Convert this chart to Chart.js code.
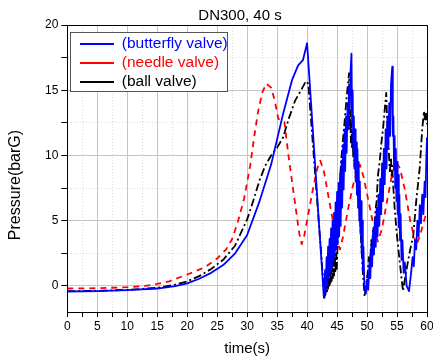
<!DOCTYPE html>
<html>
<head>
<meta charset="utf-8">
<script src="https://cdn.jsdelivr.net/npm/chart.js@4.4.0/dist/chart.umd.min.js"></script>
<style>
  html, body { margin: 0; padding: 0; background: #fff; }
  #wrap { width: 433px; height: 361px; }
</style>
</head>
<body>
<div id="wrap"><canvas id="myChart" width="433" height="361"></canvas></div>
<script>
const chartTitle = 'DN300, 40 s';
const xTitle = 'time(s)';
const yTitle = 'Pressure(barG)';
const seriesNames = ['(butterfly valve)', '(needle valve)', '(ball valve)'];
const seriesColors = ['#0000ff', '#ff0000', '#000000'];
const xTickLabels = [0, 5, 10, 15, 20, 25, 30, 35, 40, 45, 50, 55, 60];
const yTickLabels = [0, 5, 10, 15, 20];

// [time s, pressure barG]
const butterfly = [
  [0,-0.43],[5,-0.4],[10,-0.32],[15,-0.2],[18,-0.02],[20,0.2],[22,0.55],[24,1.0],[26,1.6],[28,2.5],[30,3.9],[32,6.4],[34,9.3],[36,13.2],[37.5,15.8],[38.5,16.9],[39.3,17.3],[40,18.6],
  [42.8,-0.9],[43.0,1.2],[43.1,-0.5],[43.25,2.2],[43.35,0.0],[43.5,3.0],[43.6,0.6],[43.75,3.6],[43.85,1.0],[44.0,4.4],[44.1,1.3],[44.25,5.0],[44.35,1.8],[44.5,5.6],[44.6,2.2],[44.75,6.4],[44.85,2.8],[45.0,7.2],[45.1,3.2],[45.25,7.9],[45.35,3.8],[45.5,8.6],[45.6,4.6],[45.75,9.6],[45.85,6.0],[46.0,10.8],[46.1,7.4],[46.25,12.0],[46.35,8.8],[46.5,13.0],[46.6,10.2],[46.75,14.0],[46.85,12.0],[47.0,15.4],[47.1,13.5],[47.25,16.5],[47.4,17.8],
  [47.5,12.5],[47.6,15.0],[47.7,10.5],[47.8,13.0],[47.9,9.0],[48.0,12.0],[48.1,8.0],[48.2,11.0],[48.3,7.0],[48.4,10.5],[48.5,6.0],[48.6,9.5],[48.7,5.0],[48.8,8.0],[48.9,4.0],[49.0,6.5],[49.1,2.5],[49.2,5.0],[49.3,1.2],[49.4,3.0],[49.55,0.0],[49.8,-0.6],
  [50.0,0.5],[50.2,-0.3],[50.4,1.8],[50.55,0.6],[50.7,3.0],[50.85,1.5],[51.0,4.2],[51.15,2.4],[51.3,5.0],[51.45,3.0],[51.6,6.0],[51.75,3.8],[51.9,7.0],[52.05,4.6],[52.2,8.2],[52.35,5.5],[52.5,9.4],[52.65,6.5],[52.8,10.5],[52.95,7.8],[53.1,12.0],[53.25,9.0],[53.4,13.0],[53.55,10.5],[53.7,14.0],[53.85,11.5],[54.0,15.5],[54.2,16.8],
  [54.3,11.5],[54.4,13.0],[54.5,9.0],[54.6,11.5],[54.7,7.5],[54.8,10.5],[54.9,6.5],[55.0,9.5],[55.1,5.5],[55.2,8.5],[55.3,4.5],[55.4,7.0],[55.5,3.5],[55.6,5.5],[55.75,2.0],[55.9,3.5],[56.1,1.0],[56.3,1.8],[56.6,0.0],[57.0,-0.4],
  [57.3,0.8],[57.6,2.2],[57.8,1.5],[58.0,3.5],[58.2,2.8],[58.4,5.0],[58.6,3.8],[58.8,6.2],[59.0,4.8],[59.2,7.0],[59.4,5.5],[59.6,8.0],[59.75,6.8],[59.9,10.0],[60.0,11.4]
];

const needle = [
  [0,-0.2],[5,-0.18],[10,-0.1],[13,0],[15,0.15],[17,0.35],[19,0.7],[21,1.05],[23,1.45],[25,2.1],
  [26.5,2.8],[27.5,3.6],[28.5,5.0],[29.5,6.7],[30.5,9.2],[31.2,11.5],[31.8,13.3],[32.5,14.8],[33.2,15.5],[34.0,15.2],
  [34.6,14.2],[35.2,12.8],[36.2,12.6],[37.0,9.6],[38.0,6.3],[38.7,4.0],[39.1,3.2],[39.5,3.8],[40.2,5.5],[41.0,7.5],
  [41.7,9.0],[42.2,9.6],[42.8,8.8],[43.5,7.0],[44.3,5.0],[45.0,3.4],[45.5,2.8],[46.0,3.8],[46.8,5.8],[47.6,7.6],
  [48.3,8.8],[48.8,9.3],[49.4,8.4],[50.2,6.6],[51.0,4.8],[51.8,3.4],[52.5,4.4],[53.3,6.4],[54.2,8.6],[54.9,9.5],
  [55.5,9.0],[56.3,7.4],[57.2,5.0],[58.2,3.1],[58.8,3.8],[59.5,5.0],[60,5.7]
];

const ball = [
  [0,-0.4],[5,-0.38],[10,-0.3],[15,-0.15],[18,0.1],[20,0.35],[22,0.75],[24,1.3],[26,2.0],[28,3.1],[30,5.1],[31,6.5],[32,8.0],[33,9.2],[34,10.0],[35,10.6],[36,11.4],[37,12.9],[38,14.2],[39,15.0],[39.8,15.7],[40.2,15.5],
  [42.9,-0.9],[43.0,-0.2],[43.05,-0.7],[43.15,0.3],[43.2,-0.5],[43.3,0.8],[43.35,-0.4],[43.45,1.3],[43.5,-0.2],[43.6,1.8],[43.65,0.0],[43.75,2.3],[43.8,0.1],[43.9,2.9],[43.95,0.3],[44.05,3.3],[44.1,0.4],[44.2,3.5],[44.3,0.6],[44.4,3.3],[44.5,0.8],[44.6,3.0],[44.7,1.0],[44.85,2.5],[44.95,1.3],[45.4,7.5],[45.7,9.7],[46.2,12.3],[46.6,14.5],[47.0,16.3],
  [47.1,12.0],[47.2,13.5],[47.3,11.0],[47.4,12.5],[47.5,10.5],[47.6,11.8],[47.7,9.8],[47.8,11.0],[47.9,9.2],[48.0,10.2],[48.1,8.6],[48.2,9.4],[48.35,8.0],[48.5,8.4],[48.7,6.5],[49.0,3.5],[49.3,1.0],[49.6,-0.8],
  [49.8,0.0],[50.1,1.0],[50.3,2.2],[50.5,1.8],[50.7,3.5],[50.85,2.8],[51.0,4.5],[51.2,4.0],[51.4,5.8],[51.6,6.5],[51.8,8.4],[52.1,9.5],[52.4,11.0],[52.7,12.2],[53.0,13.8],[53.2,14.8],
  [53.4,12.0],[53.6,10.5],[53.8,8.8],[54.0,9.8],[54.1,8.4],[54.2,9.2],[54.35,7.8],[54.6,6.0],[54.9,4.3],[55.3,2.5],[55.7,0.8],[56.0,-0.4],
  [56.3,0.5],[56.8,1.8],[57.2,2.8],[57.7,3.8],[58.2,6.5],[58.8,9.1],[59.2,12.0],[59.5,13.4],[59.7,12.6],[59.85,13.2],[60,12.4]
];

const FONT = '"Liberation Sans", Arial, sans-serif';
Chart.defaults.font.family = FONT;
Chart.defaults.color = '#000';

function toPoints(arr) {
  return arr.map(p => ({x: p[0], y: p[1]}));
}

function isMajor(ctx) {
  return ctx.tick && Math.abs(ctx.tick.value % 5) < 1e-9;
}

// legend box, frame, title and y title
const frame = {
  id: 'frame',
  afterLayout(chart) {
    const lg = chart.legend;
    if (!lg || lg._moved) return;
    lg._moved = true;
    const draw = lg.draw.bind(lg);
    lg.draw = function() {
      const ctx = chart.ctx;
      ctx.save();
      ctx.fillStyle = '#fff';
      ctx.fillRect(70.5, 32.5, 157, 59);
      ctx.strokeStyle = '#555';
      ctx.lineWidth = 1;
      ctx.strokeRect(70.5, 32.5, 157, 59);
      ctx.restore();
      lg.left = 76.5; lg.top = 32.75; lg.right = 240; lg.bottom = 100;
      draw();
    };
  },
  afterDraw(chart) {
    const ctx = chart.ctx, a = chart.chartArea;
    ctx.save();
    ctx.strokeStyle = '#000';
    ctx.lineWidth = 1;
    ctx.beginPath();
    ctx.moveTo(a.left, Math.round(a.top) + 0.5);
    ctx.lineTo(Math.round(a.right) + 0.5, Math.round(a.top) + 0.5);
    ctx.lineTo(Math.round(a.right) + 0.5, a.bottom);
    ctx.stroke();
    ctx.fillStyle = '#000';
    ctx.textAlign = 'center';
    ctx.textBaseline = 'middle';
    ctx.font = '15px ' + FONT;
    ctx.fillText(chartTitle, 240, 15.5);
    ctx.translate(16, 185);
    ctx.rotate(-Math.PI / 2);
    ctx.font = '16px ' + FONT;
    ctx.fillText(yTitle, 0, 0);
    ctx.restore();
  }
};

const ctx = document.getElementById('myChart').getContext('2d');

const myChart = new Chart(ctx, {
  type: 'line',
  data: {
    datasets: [{
      label: seriesNames[0],
      data: toPoints(butterfly),
      borderColor: seriesColors[0],
      borderWidth: 1.8
    }, {
      label: seriesNames[1],
      data: toPoints(needle),
      borderColor: seriesColors[1],
      borderWidth: 1.8,
      borderDash: [6, 5]
    }, {
      label: seriesNames[2],
      data: toPoints(ball),
      borderColor: seriesColors[2],
      borderWidth: 1.8,
      borderDash: [8, 3, 2, 3]
    }]
  },
  options: {
    responsive: false,
    animation: false,
    devicePixelRatio: 1,
    events: [],
    layout: { padding: { top: 25, right: 6, left: 0, bottom: 0 } },
    elements: {
      point: { radius: 0 },
      line: { tension: 0, borderJoinStyle: 'round', fill: false }
    },
    plugins: {
      title: { display: false },
      tooltip: { enabled: false },
      legend: {
        position: 'chartArea',
        align: 'start',
        labels: {
          font: { size: 15.5 },
          padding: 3.5,
          usePointStyle: true,
          pointStyle: 'line',
          pointStyleWidth: 34,
          boxHeight: 15,
          generateLabels: function(chart) {
            const items = Chart.defaults.plugins.legend.labels.generateLabels(chart);
            return items.map((it, i) => Object.assign(it, { fontColor: seriesColors[i], pointStyle: 'line' }));
          }
        }
      }
    },
    scales: {
      x: {
        type: 'linear',
        min: 0,
        max: 60,
        afterFit: function(s) { s.height = 49; s.paddingLeft = 0; s.paddingRight = 0; },
        ticks: {
          stepSize: 2.5,
          autoSkip: false,
          maxRotation: 0,
          padding: 2,
          font: { size: 12 },
          callback: v => xTickLabels.includes(v) ? String(v) : ''
        },
        grid: {
          color: c => isMajor(c) ? '#c4c4c4' : '#dadada',
          lineWidth: 1,
          tickLength: 5,
          tickColor: '#000'
        },
        border: {
          color: '#000',
          width: 1,
          dash: c => (c.tick && !isMajor(c)) ? [1, 2] : []
        },
        title: {
          display: true,
          text: xTitle,
          font: { size: 15 },
          padding: { top: 0, bottom: 3 }
        }
      },
      y: {
        type: 'linear',
        min: -2,
        max: 20,
        afterFit: function(s) { s.width = 67.3; s.paddingTop = 0; s.paddingBottom = 0; },
        ticks: {
          stepSize: 2.5,
          includeBounds: false,
          autoSkip: false,
          padding: 3,
          font: { size: 12 },
          callback: v => yTickLabels.includes(v) ? String(v) : ''
        },
        grid: {
          color: c => isMajor(c) ? '#c4c4c4' : '#dadada',
          lineWidth: 1,
          tickLength: 6,
          tickColor: '#000'
        },
        border: {
          color: '#000',
          width: 1,
          dash: c => (c.tick && !isMajor(c)) ? [1, 2] : []
        },
        title: { display: false }
      }
    }
  },
  plugins: [frame]
});
</script>
</body>
</html>
